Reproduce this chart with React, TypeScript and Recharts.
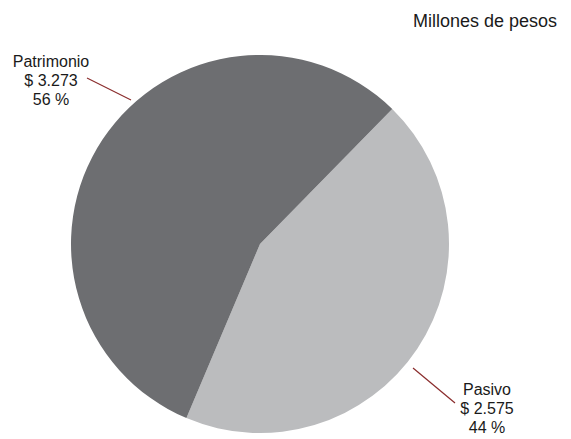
import { PieChart, Pie, Cell } from 'recharts'

const categories = ['Pasivo', 'Patrimonio']
const values = [2575, 3273]
const colors = ['#bbbcbe', '#6d6e71']
const unitLabel = 'Millones de pesos'

const data = categories.map((name, i) => ({ name, value: values[i] }))

// label placement, relative to the pie centre
const labelLayout: Record<string, { line: number[]; text: number[] }> = {
  Patrimonio: { line: [-129, -144, -173, -166], text: [-209, -177] },
  Pasivo: { line: [153, 124, 195, 159], text: [227, 151] },
}

const formatMoney = (v: number) => '$ ' + String(v).replace(/\B(?=(\d{3})+(?!\d))/g, '.')

const renderLabel = (props: any) => {
  const { cx, cy, name, value, percent } = props
  const lay = labelLayout[name]
  if (!lay) return null
  const [x1, y1, x2, y2] = lay.line
  const tx = cx + lay.text[0]
  const ty = cy + lay.text[1]
  return (
    <g>
      <line x1={cx + x1} y1={cy + y1} x2={cx + x2} y2={cy + y2} stroke="#8a2c2c" strokeWidth={1.2} />
      <text x={tx} y={ty} textAnchor="middle" fontSize={16} fill="#1a1a1a" fontFamily="Liberation Sans, Arial, sans-serif">
        <tspan x={tx} dy={0}>{name}</tspan>
        <tspan x={tx} dy={19}>{formatMoney(value)}</tspan>
        <tspan x={tx} dy={19}>{Math.round(percent * 100)} %</tspan>
      </text>
    </g>
  )
}

export default function App() {
  const start = 45.6
  return (
    <div style={{ position: 'fixed', left: 0, top: 0, width: 571, height: 439, background: '#fff' }}>
      <PieChart width={571} height={439} margin={{ top: 0, right: 0, bottom: 0, left: 0 }}>
        <text x={557} y={27} textAnchor="end" fontSize={18} fill="#1a1a1a" fontFamily="Liberation Sans, Arial, sans-serif">
          {unitLabel}
        </text>
        <Pie
          data={data}
          dataKey="value"
          nameKey="name"
          cx={260}
          cy={244}
          outerRadius={189}
          startAngle={start}
          endAngle={start - 360}
          stroke="none"
          label={renderLabel}
          labelLine={false}
          isAnimationActive={false}
        >
          {data.map((d, i) => (
            <Cell key={d.name} fill={colors[i]} />
          ))}
        </Pie>
      </PieChart>
    </div>
  )
}
